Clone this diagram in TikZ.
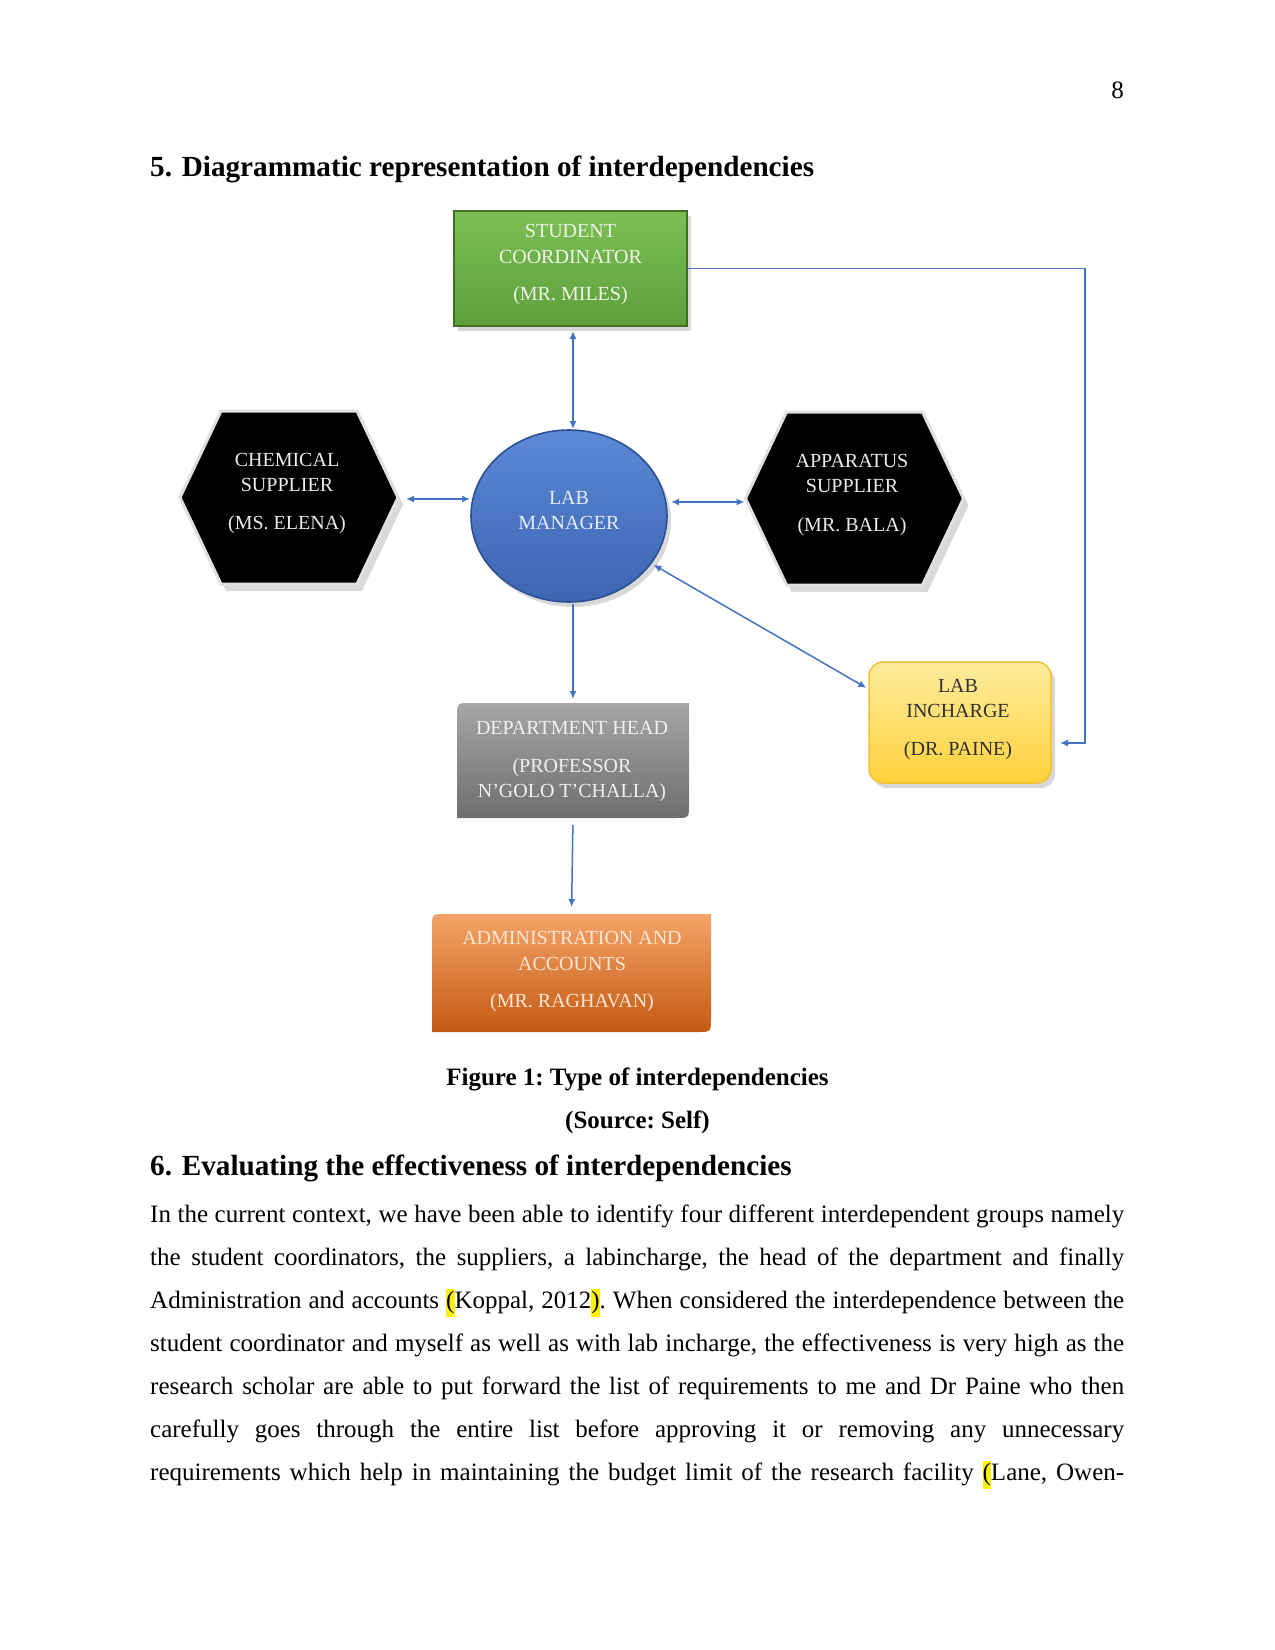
\documentclass[tikz,border=0pt]{standalone}
\usepackage{fontspec}
\setmainfont{Liberation Serif}
\usetikzlibrary{shapes.geometric,shadows,calc,arrows.meta}
\definecolor{arrblue}{HTML}{4472C4}
\definecolor{scTop}{HTML}{7CBF55}
\definecolor{scBot}{HTML}{5E9F3A}
\definecolor{scBorder}{HTML}{3F7024}
\definecolor{scText}{HTML}{EEF5E8}
\definecolor{lmTop}{HTML}{5C88D6}
\definecolor{lmBot}{HTML}{3C65B2}
\definecolor{lmBorder}{HTML}{2C5192}
\definecolor{lmText}{HTML}{E6EDF8}
\definecolor{liTop}{HTML}{FFEB9E}
\definecolor{liBot}{HTML}{FFD23C}
\definecolor{liBorder}{HTML}{F2C131}
\definecolor{liText}{HTML}{303030}
\definecolor{dhTop}{HTML}{A6A6A6}
\definecolor{dhBot}{HTML}{6E6E6E}
\definecolor{adTop}{HTML}{F4A468}
\definecolor{adBot}{HTML}{C45A14}
\definecolor{adText}{HTML}{FCE6D4}
\newcommand\bodyfont{\fontsize{25}{28}\selectfont\frenchspacing}
\newcommand\headfont{\fontsize{29.2}{34}\selectfont\bfseries}
\newcommand\hlmark[1]{{\setlength{\fboxsep}{0pt}\colorbox{yellow}{\strut#1}}}
\begin{document}
\begin{tikzpicture}[x=1pt,y=-1pt,
  >={Latex[length=8pt,width=7pt]},
  conn/.style={draw=arrblue, line width=1.5pt},
  dtxt/.style={font=\fontsize{20}{24}\selectfont, inner sep=0pt, anchor=mid},
  body/.style={font=\bodyfont, inner sep=0pt, anchor=mid west},
  boxshadow/.style={drop shadow={shadow xshift=4pt, shadow yshift=-5pt, opacity=0.3}},
]
\useasboundingbox[fill=white] (0,0) rectangle (1275,1650);

% page header and headings
\node[font=\bodyfont, inner sep=0pt, anchor=mid east] (pn) at (1124,96) {8};
\node[font=\headfont, inner sep=0pt, anchor=mid west] (h5) at (150,174) {5. Diagrammatic representation of interdependencies};

% shapes
\node[draw=scBorder, line width=1.6pt, top color=scTop, bottom color=scBot,
      minimum width=233pt, minimum height=115pt, inner sep=0pt, outer sep=0pt, boxshadow] (sc) at (570.5,268.5) {};
\node[ellipse, draw=lmBorder, line width=1.6pt, top color=lmTop, bottom color=lmBot,
      minimum width=196pt, minimum height=172pt, inner sep=0pt, outer sep=0pt, boxshadow] (lm) at (569,516) {};
\node[minimum width=218pt, minimum height=173pt, inner sep=0pt, outer sep=0pt] (chem) at (289,497.5) {};
\node[minimum width=218pt, minimum height=173pt, inner sep=0pt, outer sep=0pt] (app) at (854.5,498.5) {};
\node[rounded corners=14pt, draw=liBorder, line width=1.5pt, top color=liTop, bottom color=liBot,
      minimum width=182pt, minimum height=121pt, inner sep=0pt, outer sep=0pt, boxshadow] (li) at (960,722.5) {};
\node[minimum width=232pt, minimum height=115pt, inner sep=0pt, outer sep=0pt] (dh) at (573,760.5) {};
\node[minimum width=279pt, minimum height=118pt, inner sep=0pt, outer sep=0pt] (ad) at (571.5,973) {};

% hexagons
\fill[black, opacity=0.15] ($(chem.west)+(5,7)$) -- ++(41,-86.5) -- ++(136,0) -- ++(41,86.5) -- ++(-41,86.5) -- ++(-136,0) -- cycle;
\filldraw[fill=black, draw=white!88!black, line width=3pt] (chem.west) -- ++(41,-86.5) -- ++(136,0) -- ++(41,86.5) -- ++(-41,86.5) -- ++(-136,0) -- cycle;
\fill[black, opacity=0.15] ($(app.west)+(5,7)$) -- ++(41,-86.5) -- ++(136,0) -- ++(41,86.5) -- ++(-41,86.5) -- ++(-136,0) -- cycle;
\filldraw[fill=black, draw=white!88!black, line width=3pt] (app.west) -- ++(41,-86.5) -- ++(136,0) -- ++(41,86.5) -- ++(-41,86.5) -- ++(-136,0) -- cycle;

% department head and administration (two rounded corners)
\shade[top color=dhTop, bottom color=dhBot] (dh.north) -- (dh.north east) -- ($(dh.south east)+(0,-14)$) .. controls (dh.south east) .. ($(dh.south east)+(-14,0)$) -- (dh.south west) -- ($(dh.north west)+(0,14)$) .. controls (dh.north west) .. ($(dh.north west)+(14,0)$) -- cycle;
\shade[top color=adTop, bottom color=adBot] (ad.north) -- (ad.north east) -- ($(ad.south east)+(0,-14)$) .. controls (ad.south east) .. ($(ad.south east)+(-14,0)$) -- (ad.south west) -- ($(ad.north west)+(0,14)$) .. controls (ad.north west) .. ($(ad.north west)+(14,0)$) -- cycle;

% texts inside shapes
\node[dtxt, text=scText] (sc1) at (570.5,235) {STUDENT};
\node[dtxt, text=scText] (sc2) at (570.5,261) {COORDINATOR};
\node[dtxt, text=scText] (sc3) at (570.5,298) {(MR. MILES)};
\node[dtxt, text=lmText] (lm1) at (569,502) {LAB};
\node[dtxt, text=lmText] (lm2) at (569,527) {MANAGER};
\node[dtxt, text=white!92!black] (ch1) at (287,464) {CHEMICAL};
\node[dtxt, text=white!92!black] (ch2) at (287,489) {SUPPLIER};
\node[dtxt, text=white!92!black] (ch3) at (287,527) {(MS. ELENA)};
\node[dtxt, text=white!92!black] (ap1) at (852,465) {APPARATUS};
\node[dtxt, text=white!92!black] (ap2) at (852,490) {SUPPLIER};
\node[dtxt, text=white!92!black] (ap3) at (852,529) {(MR. BALA)};
\node[dtxt, text=liText] (li1) at (958,690) {LAB};
\node[dtxt, text=liText] (li2) at (958,715) {INCHARGE};
\node[dtxt, text=liText] (li3) at (958,753) {(DR. PAINE)};
\node[dtxt, text=white!94!black] (dh1) at (572,732) {DEPARTMENT HEAD};
\node[dtxt, text=white!94!black] (dh2) at (572,770) {(PROFESSOR};
\node[dtxt, text=white!94!black] (dh3) at (572,795) {N’GOLO T’CHALLA)};
\node[dtxt, text=adText] (ad1) at (572,942) {ADMINISTRATION AND};
\node[dtxt, text=adText] (ad2) at (572,968) {ACCOUNTS};
\node[dtxt, text=adText] (ad3) at (572,1005) {(MR. RAGHAVAN)};

% connectors
\coordinate (rx) at (1085,0);
\draw[conn,<->, shorten <=5pt, shorten >=1pt] ($(sc.south)+(2.5,0)$) -- ($(lm.north)+(4,0)$);
\draw[conn,<->, shorten <=8pt, shorten >=1pt] ($(chem.east)+(0,1.5)$) -- ($(chem.east -| lm.west)+(0,1.5)$);
\draw[conn,<->, shorten <=4pt, shorten >=1pt] ($(lm.east |- app.west)+(0,3.5)$) -- ($(app.west)+(0,3.5)$);
\draw[conn,<->, shorten <=3pt, shorten >=3pt] (lm.-30) -- (li.160);
\draw[conn,->, shorten <=2pt, shorten >=4pt] ($(lm.south)+(4,0)$) -- (dh.north);
\draw[conn,->, shorten <=7pt, shorten >=7pt] (dh.south) -- (ad.north);
\draw[conn,->, shorten >=9pt] (sc.east) -- (sc.east -| rx) |- ($(li.east)+(0,20.5)$);

% caption and text
\node[font=\bodyfont\bfseries, inner sep=0pt, anchor=mid] (cap1) at (637.5,1083) {Figure 1: Type of interdependencies};
\node[font=\bodyfont\bfseries, inner sep=0pt, anchor=mid] (cap2) at (637.5,1126) {(Source: Self)};
\node[font=\headfont, inner sep=0pt, anchor=mid west] (h6) at (150,1173) {6. Evaluating the effectiveness of interdependencies};

\node[body] (t1) at (150,1220) {\makebox[974pt][s]{In the current context, we have been able to identify four different interdependent groups namely}};
\node[body] (t2) at (150,1263) {\makebox[974pt][s]{the student coordinators, the suppliers, a labincharge, the head of the department and finally}};
\node[body] (t3) at (150,1306) {\makebox[974pt][s]{Administration and accounts \hlmark{(}Koppal, 2012\hlmark{)}. When considered the interdependence between the}};
\node[body] (t4) at (150,1349) {\makebox[974pt][s]{student coordinator and myself as well as with lab incharge, the effectiveness is very high as the}};
\node[body] (t5) at (150,1392) {\makebox[974pt][s]{research scholar are able to put forward the list of requirements to me and Dr Paine who then}};
\node[body] (t6) at (150,1435) {\makebox[974pt][s]{carefully goes through the entire list before approving it or removing any unnecessary}};
\node[body] (t7) at (150,1478) {\makebox[974pt][s]{requirements which help in maintaining the budget limit of the research facility \hlmark{(}Lane, Owen-}};
\end{tikzpicture}
\end{document}
